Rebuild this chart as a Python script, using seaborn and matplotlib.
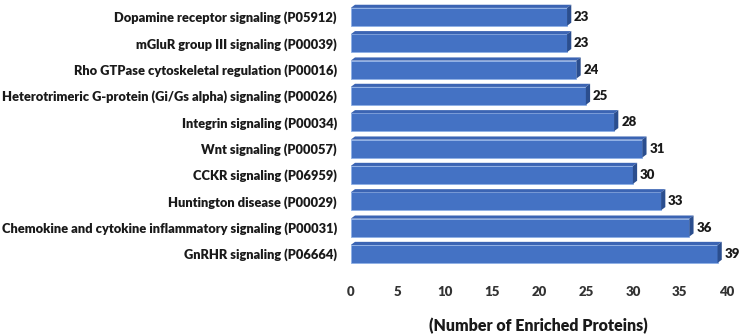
import matplotlib
matplotlib.use("Agg")
import matplotlib.pyplot as plt
from matplotlib.patches import Polygon
import seaborn as sns
import pandas as pd

pathways = [
    "Dopamine receptor signaling (P05912)",
    "mGluR group III signaling (P00039)",
    "Rho GTPase cytoskeletal regulation (P00016)",
    "Heterotrimeric G-protein (Gi/Gs alpha) signaling (P00026)",
    "Integrin signaling (P00034)",
    "Wnt signaling (P00057)",
    "CCKR signaling (P06959)",
    "Huntington disease (P00029)",
    "Chemokine and cytokine inflammatory signaling (P00031)",
    "GnRHR signaling (P06664)",
]
protein_counts = [23, 23, 24, 25, 28, 31, 30, 33, 36, 39]
x_ticks = [0, 5, 10, 15, 20, 25, 30, 35, 40]

sns.set_theme(style="white")
plt.rcParams["font.family"] = ["Lato", "DejaVu Sans"]

df = pd.DataFrame({"pathway": pathways, "count": protein_counts})

fig = plt.figure(figsize=(7.42, 3.35), dpi=100)
ax = fig.add_axes([0.4727, 0.179, 0.507, 0.81])

FRONT = "#4472C4"
TOP = "#3b64b3"
SIDE = "#2b4e8e"
TEXT = "#1a1a1a"

sns.barplot(data=df, x="count", y="pathway", orient="h", color=FRONT,
            width=0.68, saturation=1, ax=ax, edgecolor="#8fb0e6", linewidth=0.6)

# 3D-style top and side faces derived from each bar's geometry
dx, dy = 0.45, 0.12
for bar, val in zip(ax.patches, protein_counts):
    x0 = bar.get_x()
    x1 = x0 + bar.get_width()
    yt = bar.get_y()              # top edge (inverted y axis)
    yb = yt + bar.get_height()
    ax.add_patch(Polygon([(x0, yt), (x1, yt), (x1 + dx, yt - dy), (x0 + dx, yt - dy)],
                         closed=True, facecolor=TOP, edgecolor="none", zorder=3))
    ax.add_patch(Polygon([(x1, yt), (x1 + dx, yt - dy), (x1 + dx, yb - dy), (x1, yb)],
                         closed=True, facecolor=SIDE, edgecolor="none", zorder=3))
    ax.text(x1 + dx + 0.3, (yt + yb) / 2, f"{val}", va="center", ha="left",
            fontsize=9.5, fontweight="heavy", color=TEXT, clip_on=False)

ax.set_xlim(0, 40)
ax.set_ylim(9.8, -0.5)
ax.set_xticks(x_ticks)
ax.set_xticklabels([str(t) for t in x_ticks], fontsize=9.5, fontweight="heavy", color="#333333")
ax.tick_params(axis="x", length=0, pad=8)
ax.tick_params(axis="y", length=0, pad=10)
for lbl in ax.get_yticklabels():
    lbl.set_fontsize(9.3)
    lbl.set_fontweight("heavy")
    lbl.set_color(TEXT)
ax.set_ylabel("")
ax.set_xlabel("(Number of Enriched Proteins)", fontsize=11.5, fontweight="heavy",
              color=TEXT, labelpad=14)
for s in ax.spines.values():
    s.set_visible(False)
ax.grid(False)

fig.savefig("out.png", dpi=100)
